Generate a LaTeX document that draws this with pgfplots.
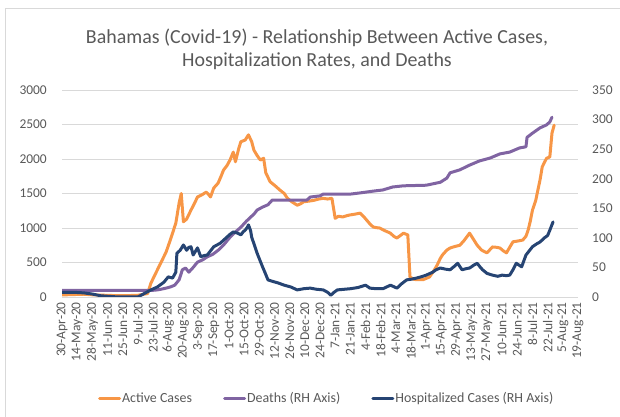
\documentclass[border=0pt]{standalone}
\usepackage{pgfplots}
\pgfplotsset{compat=1.18}
\usepackage{fontspec}
\setmainfont{Carlito}
\definecolor{actc}{RGB}{247,150,70}
\definecolor{dthc}{RGB}{128,100,162}
\definecolor{hosc}{RGB}{38,68,115}
\definecolor{txtc}{RGB}{89,89,89}
\definecolor{gridc}{RGB}{217,217,217}
\pgfplotsset{
  mybase/.style={
    scale only axis, width=516bp, height=207bp,
    xmin=0, xmax=476,
    at={(62bp,120bp)}, anchor=south west,
    axis line style={draw=none}, tick style={draw=none},
    ticklabel style={font=\fontsize{13.5}{16}\selectfont, text=txtc},
    /pgf/number format/assume math mode=true,
    /pgf/number format/1000 sep={},
  },
  ser/.style={line width=3bp, line join=round, line cap=round, no markers, sharp plot},
}
\begin{document}
\begin{tikzpicture}
\useasboundingbox (0,0) rectangle (620bp,417bp);
\draw[gridc, line width=0.8bp] (5bp,0bp) -- (5bp,408.5bp) -- (620bp,408.5bp);
\node[font=\fontsize{20}{23}\selectfont, text=txtc, align=center] at (317bp,368bp) {Bahamas (Covid-19) - Relationship Between Active Cases,\\Hospitalization Rates, and Deaths};
\begin{axis}[mybase,
  ymin=0, ymax=3000, ytick={0,500,...,3000},
  ymajorgrids, grid style={gridc, line width=0.8bp},
  xtick={0,14,...,476},
  xticklabels={30-Apr-20,14-May-20,28-May-20,11-Jun-20,25-Jun-20,9-Jul-20,23-Jul-20,6-Aug-20,20-Aug-20,3-Sep-20,17-Sep-20,1-Oct-20,15-Oct-20,29-Oct-20,12-Nov-20,26-Nov-20,10-Dec-20,24-Dec-20,7-Jan-21,21-Jan-21,4-Feb-21,18-Feb-21,4-Mar-21,18-Mar-21,1-Apr-21,15-Apr-21,29-Apr-21,13-May-21,27-May-21,10-Jun-21,24-Jun-21,8-Jul-21,22-Jul-21,5-Aug-21,19-Aug-21},
  xticklabel style={rotate=90, anchor=east, inner sep=0pt},
  xticklabel shift=5bp,
  yticklabel style={inner sep=0pt, anchor=east},
  yticklabel shift=15bp,
]
\addplot[ser, actc] coordinates {
(0,30)(10,35)(20,40)(30,30)(40,25)(50,20)(60,20)(70,25)(79,50)(82,200)(86,330)(91,490)(96,650)(100,830)(105,1070)(108,1360)(110,1500)(112,1090)(115,1130)(119,1260)(122,1350)(125,1450)(129,1480)(133,1520)(135,1490)(137,1450)(140,1580)(144,1650)(147,1760)(149,1840)(152,1900)(155,1985)(158,2100)(160,1960)(163,2150)(165,2250)(169,2275)(172,2350)(175,2250)(177,2130)(180,2050)(183,1985)(186,2010)(188,1800)(192,1670)(196,1620)(201,1550)(205,1500)(208,1430)(212,1380)(217,1330)(220,1350)(223,1380)(228,1390)(232,1400)(237,1420)(241,1430)(245,1420)(249,1430)(252,1140)(255,1170)(259,1160)(263,1180)(266,1190)(270,1200)(275,1215)(278,1170)(281,1115)(284,1060)(287,1015)(290,1005)(293,1000)(298,960)(303,925)(306,880)(309,855)(312,890)(315,925)(319,900)(321,290)(324,260)(327,250)(333,250)(336,270)(339,290)(343,380)(346,460)(349,560)(351,610)(355,680)(358,710)(362,730)(367,750)(371,820)(376,925)(379,850)(383,750)(387,680)(392,640)(395,690)(397,725)(401,720)(404,710)(407,670)(410,640)(413,720)(416,800)(420,810)(425,825)(428,880)(430,970)(432,1100)(434,1260)(437,1400)(439,1550)(441,1700)(443,1885)(445,1950)(447,2010)(450,2030)(452,2375)(454,2490)
};
\end{axis}
\begin{axis}[mybase,
  ymin=0, ymax=350, ytick={0,50,...,350},
  xtick=\empty,
  yticklabel pos=right,
  yticklabel style={inner sep=0pt, anchor=west},
  yticklabel shift=14bp,
  legend columns=3,
  legend style={at={(0.512,-0.488)}, anchor=center, draw=none, fill=none,
    font=\fontsize{14}{16}\selectfont, text=txtc,
    /tikz/every even column/.append style={column sep=30bp},
    nodes={inner sep=1bp}},
  legend image code/.code={\draw[#1] (0bp,0bp) -- (20bp,0bp);},
]
\addlegendimage{ser, actc}
\addlegendentry{Active Cases}
\addplot[ser, dthc] coordinates {
(0,11)(79,11)(82,11)(88,12)(91,13)(96,15)(100,17)(104,20)(108,29)(110,40)(111,46)(114,49)(117,42)(121,50)(125,59)(130,63)(134,68)(139,72)(144,79)(150,90)(155,101)(160,110)(165,118)(170,128)(174,135)(177,140)(180,147)(185,152)(190,156)(194,164)(226,164)(229,169)(238,171)(241,174)(266,174)(275,176)(287,179)(296,181)(305,186)(315,188)(336,189)(349,194)(355,201)(358,210)(367,215)(376,223)(385,230)(395,235)(404,242)(413,245)(422,252)(428,254)(429,270)(434,277)(441,286)(447,291)(450,296)(452,304)
};
\addlegendentry{Deaths (RH Axis)}
\addplot[ser, hosc] coordinates {
(0,8)(10,8)(20,7)(28,5)(36,2)(44,1)(52,0)(60,0)(70,0)(77,7)(82,12)(88,17)(94,25)(98,34)(102,32)(105,42)(106,74)(109,79)(112,88)(115,79)(117,84)(119,85)(121,71)(125,83)(128,68)(131,70)(134,71)(137,78)(140,85)(143,88)(146,91)(149,96)(152,101)(155,106)(158,110)(162,108)(165,105)(167,110)(169,113)(171,118)(172,122)(174,112)(175,101)(178,85)(180,74)(185,51)(188,38)(190,29)(195,26)(199,24)(205,20)(211,17)(217,12)(223,14)(229,15)(235,13)(241,12)(245,8)(248,3)(251,8)(254,12)(260,13)(266,14)(273,16)(280,20)(284,15)(290,14)(296,14)(303,20)(309,15)(313,22)(318,29)(322,30)(327,32)(331,34)(336,37)(342,42)(345,46)(349,49)(354,47)(358,46)(362,52)(365,57)(369,46)(373,48)(376,49)(380,54)(383,57)(386,50)(388,46)(392,40)(397,37)(402,35)(406,37)(410,36)(413,37)(416,46)(419,57)(424,51)(428,71)(431,78)(434,85)(438,90)(441,93)(445,100)(448,104)(450,113)(453,127)
};
\addlegendentry{Hospitalized Cases (RH Axis)}
\end{axis}
\end{tikzpicture}
\end{document}
